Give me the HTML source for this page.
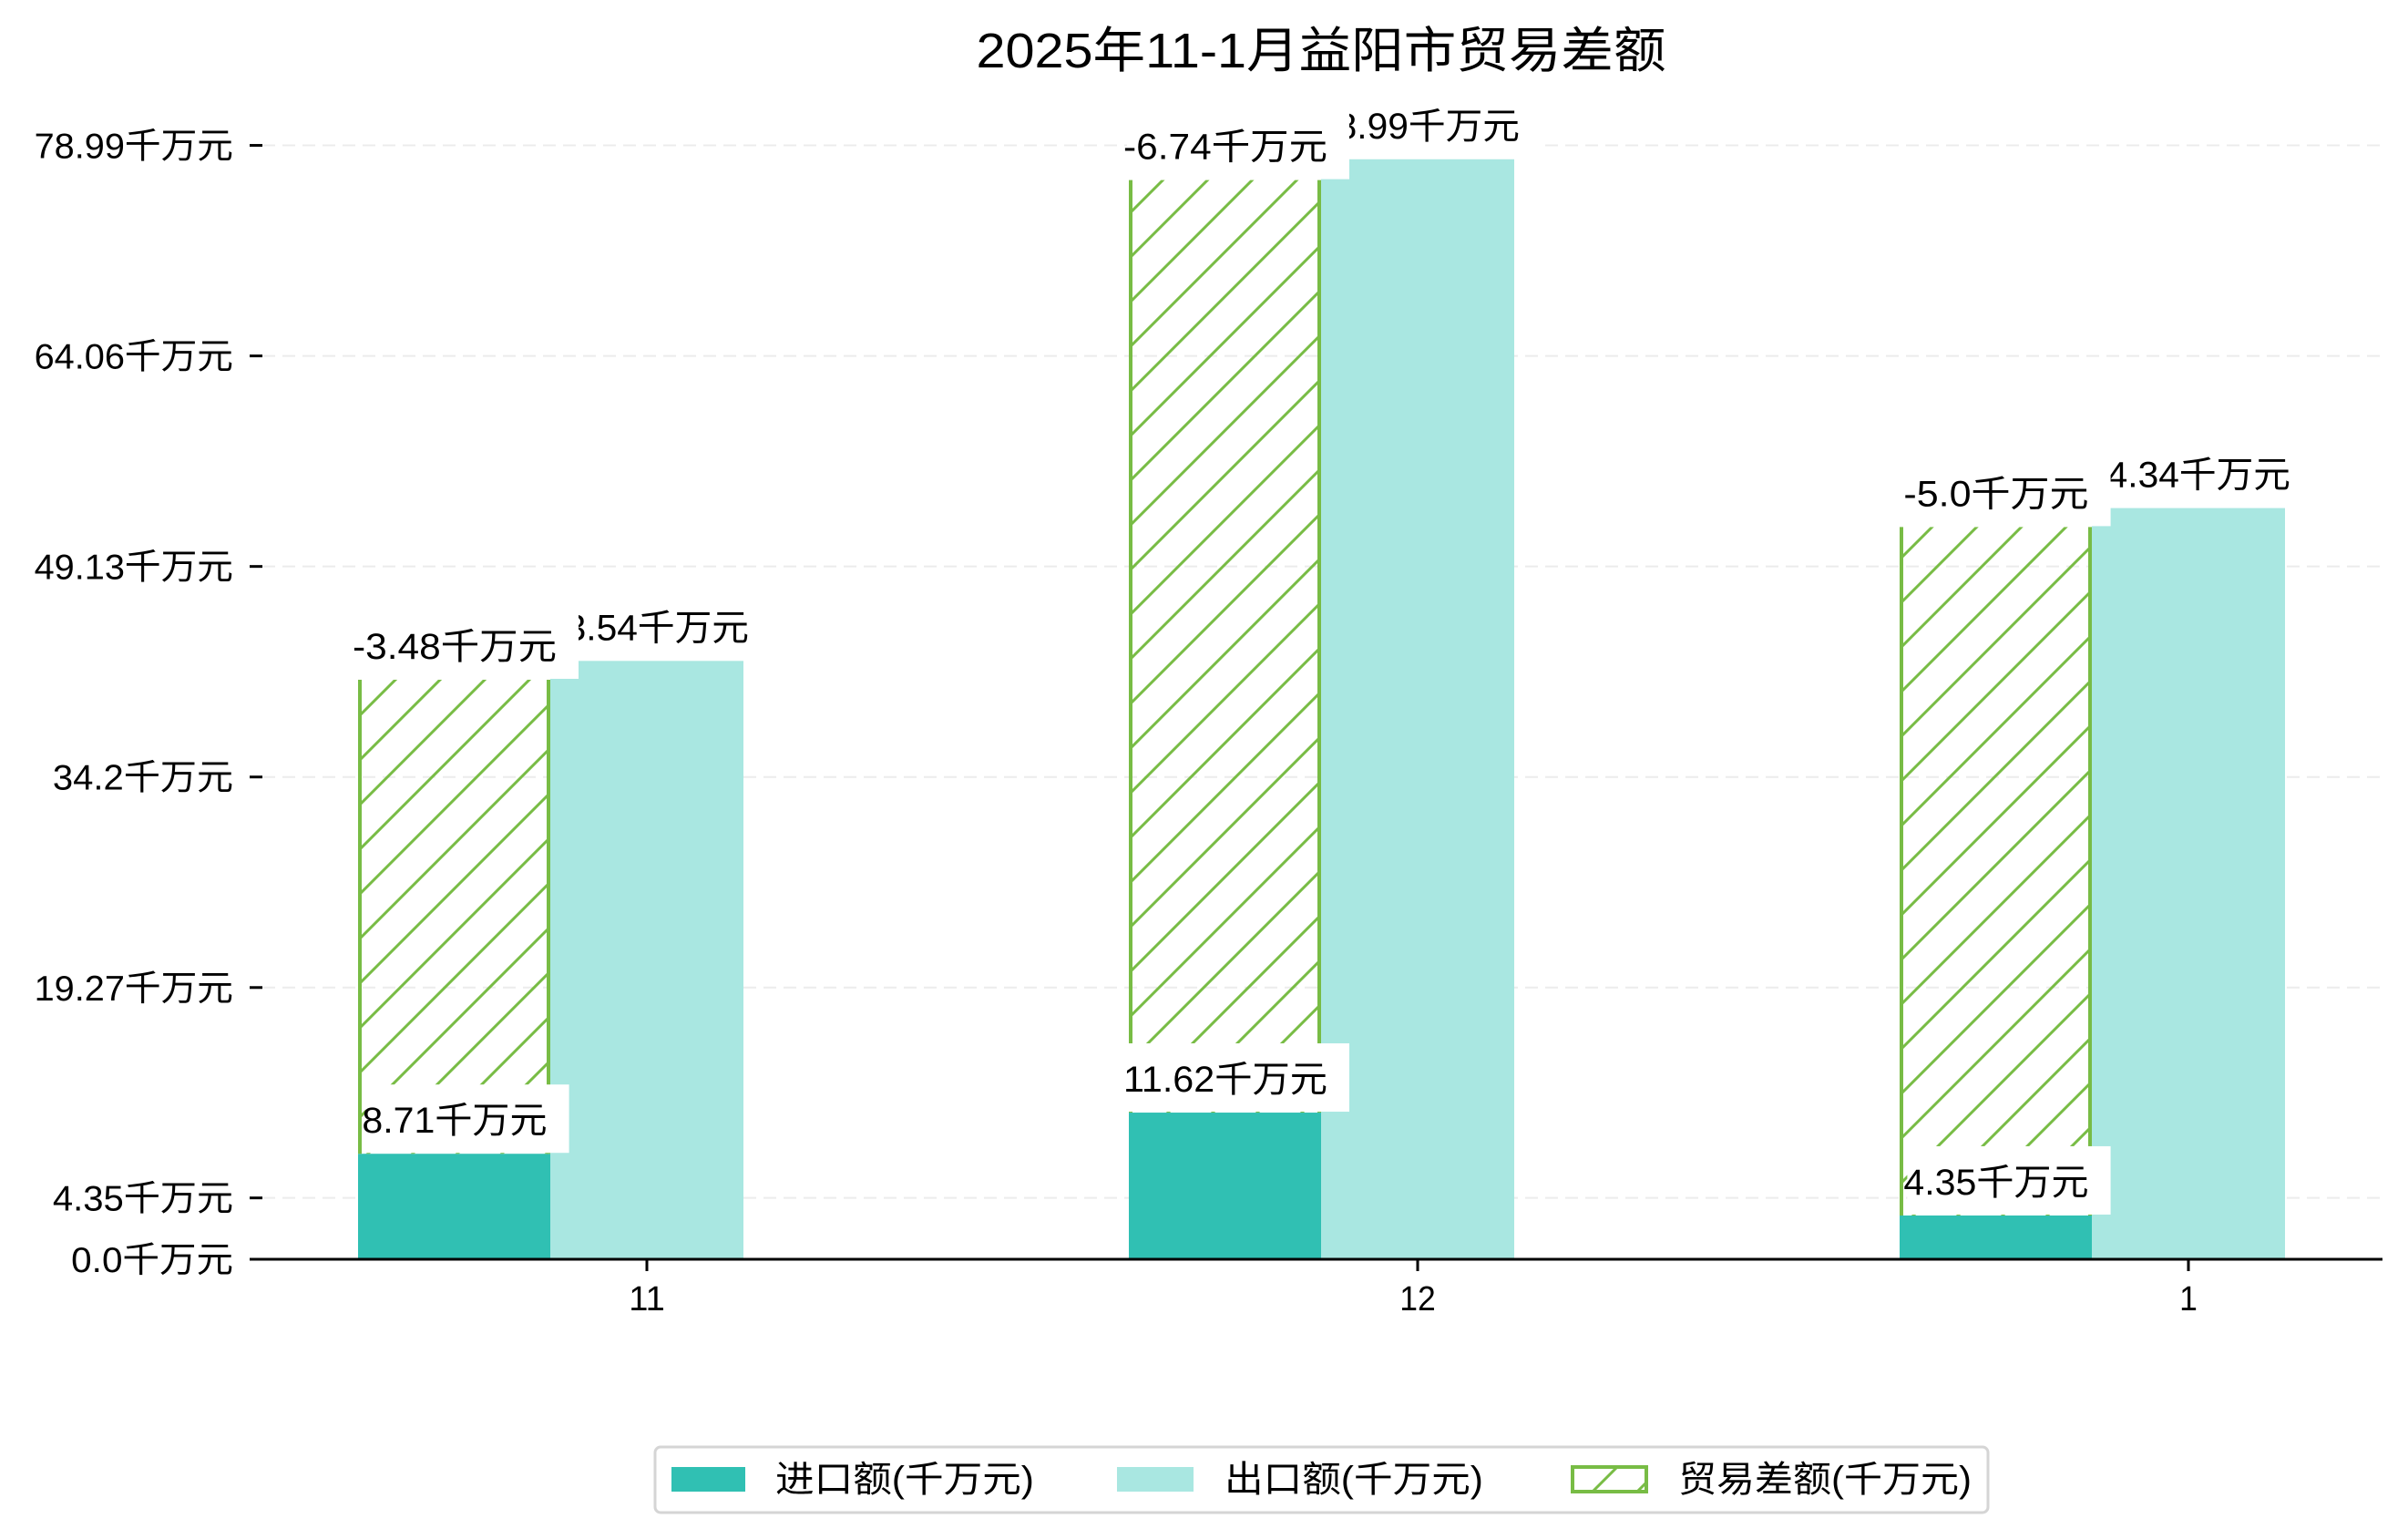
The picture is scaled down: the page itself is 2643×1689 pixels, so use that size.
<!DOCTYPE html>
<html><head><meta charset="utf-8"><style>
html,body{margin:0;padding:0;background:#fff}
svg{display:block}
text{font-family:"Liberation Sans","Noto Sans CJK SC",sans-serif;fill:#000}
</style></head><body>
<svg id="chart" width="2643" height="1689" viewBox="0 0 2643 1689" xmlns="http://www.w3.org/2000/svg">
<defs>
<pattern id="hatch" patternUnits="userSpaceOnUse" width="49" height="49" patternTransform="translate(0,4)">
<line x1="-5" y1="54" x2="54" y2="-5" stroke="#78bc45" stroke-width="3"/>
<line x1="-5" y1="5" x2="5" y2="-5" stroke="#78bc45" stroke-width="3"/>
<line x1="44" y1="54" x2="54" y2="44" stroke="#78bc45" stroke-width="3"/>
</pattern>
</defs>
<text x="1450" y="74" font-size="54" text-anchor="middle" textLength="757" lengthAdjust="spacingAndGlyphs">2025年11-1月益阳市贸易差额</text>
<g id="grid"></g>
<g id="bars"></g>
<g id="labels"></g>
<g id="axes"></g>
<g>
<rect x="719" y="1588" width="1463" height="72" rx="6" fill="#fff" stroke="#d5d5d5" stroke-width="3"/>
<rect x="737" y="1610" width="81" height="27" fill="#30c0b3"/>
<text x="851" y="1637" font-size="40" textLength="284" lengthAdjust="spacingAndGlyphs">进口额(千万元)</text>
<rect x="1226" y="1610" width="84" height="27" fill="#a9e7e1"/>
<text x="1344" y="1637" font-size="40" textLength="284" lengthAdjust="spacingAndGlyphs">出口额(千万元)</text>
<rect x="1726" y="1610" width="81" height="27" fill="url(#hatch)" stroke="#78bc45" stroke-width="4"/>
<text x="1842" y="1637" font-size="40" textLength="322" lengthAdjust="spacingAndGlyphs">贸易差额(千万元)</text>
</g>
</svg>
<script>
const categories = ["11", "12", "1"];
const importValues = [8.71, 11.62, 4.35];
const exportValues = [43.54, 78.99, 54.34];
const balanceValues = [-3.48, -6.74, -5.0];
const balanceHeights = [33.5, 65.9, 48.65];
const tickValues = [0.0, 4.35, 19.27, 34.2, 49.13, 64.06, 78.99];
const tickLabels = ["0.0千万元", "4.35千万元", "19.27千万元", "34.2千万元", "49.13千万元", "64.06千万元", "78.99千万元"];

const NS = "http://www.w3.org/2000/svg";
const axisLeft = 274, axisRight = 2615, axisY = 1382;
function yBar(v){ return 1401.5 - v * 15.53; }
function yTick(v){ return 1382 - v * 15.476; }
function xCenter(i){ return 710 + i * 846; }
const barW = 211;
function mk(tag, attrs, parent){
  const e = document.createElementNS(NS, tag);
  for (const k in attrs) e.setAttribute(k, attrs[k]);
  parent.appendChild(e);
  return e;
}
function textW(s, F){
  let n = 0;
  for (const c of s) n += (c.charCodeAt(0) < 256) ? 0.52 : 1.0;
  return n * F;
}
const grid = document.getElementById('grid');
const bars = document.getElementById('bars');
const labels = document.getElementById('labels');
const axes = document.getElementById('axes');

tickValues.forEach((v, i) => {
  const y = yTick(v);
  if (v > 0) {
    const g = mk('line', {x1: 288, x2: axisRight, y1: y, y2: y, stroke: '#ececec', 'stroke-width': 2, 'stroke-dasharray': '14,8'}, grid);
    
    
  }
  const t = mk('line', {x1: 274, x2: 288, y1: y, y2: y, stroke: '#000', 'stroke-width': 3}, axes);
  
  
  const lbl = tickLabels[i];
  const tx = mk('text', {x: 256, y: y + 14, 'font-size': 39, 'text-anchor': 'end', textLength: textW(lbl, 39), lengthAdjust: 'spacingAndGlyphs'}, axes);
  tx.textContent = lbl;
  
  
});

function addLabel(str, cx, top, name){
  const F = 40, w = textW(str, F);
  const box = mk('rect', {x: cx - w/2 + 4, y: top - 76, width: w + 20, height: 75, fill: '#fff'}, labels);
  
  
  const t = mk('text', {x: cx, y: top - 23, 'font-size': F, 'text-anchor': 'middle', textLength: w, lengthAdjust: 'spacingAndGlyphs'}, labels);
  t.textContent = str;
  
  
}

categories.forEach((c, i) => {
  const cx = xCenter(i);
  const x1 = cx - 317, x2 = cx - 106;
  const yi = yBar(importValues[i]);
  const r1 = mk('rect', {x: x1, y: yi, width: barW, height: axisY - yi, fill: '#30c0b3'}, bars);
  
  
  const ye = yBar(exportValues[i]);
  const r2 = mk('rect', {x: x2, y: ye, width: barW + 1, height: axisY - ye, fill: '#a9e7e1'}, bars);
  
  
  const yb = yBar(importValues[i] + balanceHeights[i]);
  const r3 = mk('rect', {x: x1 + 1.5, y: yb, width: barW - 3, height: yi - yb, fill: 'url(#hatch)'}, bars);
  
  
  const e1 = mk('line', {x1: x1 + 2, x2: x1 + 2, y1: yb, y2: yi, stroke: '#78bc45', 'stroke-width': 4}, bars);
  
  
  const e2 = mk('line', {x1: x2 - 2, x2: x2 - 2, y1: yb, y2: yi, stroke: '#78bc45', 'stroke-width': 4}, bars);
  
  
  const tk = mk('line', {x1: cx, x2: cx, y1: axisY, y2: axisY + 13, stroke: '#000', 'stroke-width': 3}, axes);
  
  
  const xl = mk('text', {x: cx, y: axisY + 56, 'font-size': 38, 'text-anchor': 'middle', textLength: textW(c, 38), lengthAdjust: 'spacingAndGlyphs'}, axes);
  xl.textContent = c;
  
  
});
categories.forEach((c, i) => {
  const cx = xCenter(i);
  addLabel(importValues[i] + '千万元', cx - 211, yBar(importValues[i]), 'import-value-label');
});
categories.forEach((c, i) => {
  const cx = xCenter(i);
  addLabel(exportValues[i] + '千万元', cx, yBar(exportValues[i]), 'export-value-label');
});
categories.forEach((c, i) => {
  const cx = xCenter(i);
  addLabel(balanceValues[i].toFixed(balanceValues[i] % 1 === 0 ? 1 : 2) + '千万元', cx - 211, yBar(importValues[i] + balanceHeights[i]), 'balance-value-label');
});
const base = mk('line', {x1: axisLeft, x2: axisRight, y1: axisY, y2: axisY, stroke: '#000', 'stroke-width': 3}, axes);


</script>
</body></html>
